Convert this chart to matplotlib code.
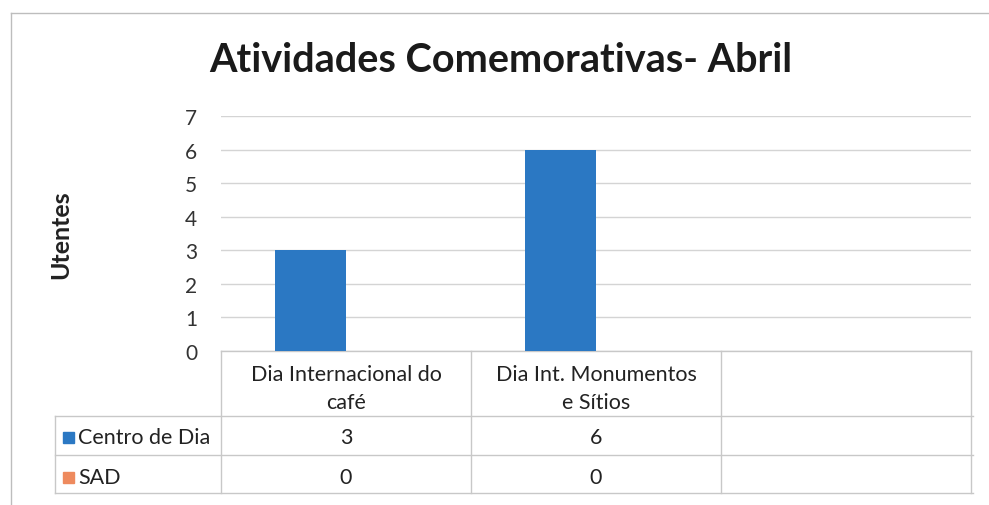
import matplotlib.pyplot as plt
from matplotlib.transforms import blended_transform_factory
import numpy as np

plt.rcParams['font.family'] = ['Lato', 'DejaVu Sans']

# dados do gráfico
categorias = ['Dia Internacional do\ncafé', 'Dia Int. Monumentos\ne Sítios', '']
series = ['Centro de Dia', 'SAD']
centro_dia = [3, 6, None]
sad = [0, 0, None]
cores = ['#2B78C3', '#EE8A5E']

W, H = 989, 506
fig = plt.figure(figsize=(W / 100, H / 100), dpi=100)

def fy(py):
    return 1 - py / H

ax = fig.add_axes([221 / W, fy(352), (971 - 221) / W, (352 - 117) / H])

x = np.arange(len(categorias))
largura = 0.285
valores = [centro_dia, sad]
for i, (nome, vals) in enumerate(zip(series, valores)):
    v = [0 if a is None else a for a in vals]
    ax.bar(x + (i - 0.5) * largura, v, largura, color=cores[i], zorder=3)

ax.set_xlim(-0.5, len(categorias) - 0.5)
ax.set_ylim(0, 7)
ax.set_yticks(range(0, 8))
ax.tick_params(axis='y', length=0, labelsize=15, pad=17, labelcolor='#333333')
ax.set_xticks([])
ax.grid(axis='y', color='#D4D4D4', linewidth=1, zorder=0)
for s in ax.spines.values():
    s.set_visible(False)

ax.set_ylabel('Utentes', fontsize=18, fontweight='bold', color='#222222')
ax.yaxis.set_label_coords(-0.198, 0.5)

fig.text(0.506, fy(61), 'Atividades Comemorativas- Abril', ha='center', va='center',
         fontsize=28.5, fontweight='bold', color='#1A1A1A')

# tabela de dados (eixo x em dados, eixo y em pixels da figura)
tr = blended_transform_factory(ax.transData, fig.transFigure)
linha_cor = '#C8C8C8'
y_topo, y_r1, y_r2, y_fim = 352, 417, 456, 494
x_leg = 55

# linhas horizontais
ax.plot([-0.5, 2.5], [fy(y_topo)] * 2, transform=tr, color=linha_cor, lw=1, clip_on=False)
for yy in (y_r1, y_r2, y_fim):
    fig.add_artist(plt.Line2D([x_leg / W, 973 / W], [fy(yy)] * 2, color=linha_cor, lw=1))
# linhas verticais
fig.add_artist(plt.Line2D([x_leg / W] * 2, [fy(y_r1), fy(y_fim)], color=linha_cor, lw=1))
for b in np.arange(len(categorias) + 1) - 0.5:
    ax.plot([b, b], [fy(y_topo), fy(y_fim)], transform=tr, color=linha_cor, lw=1, clip_on=False)

# cabeçalhos
for xi, cat in zip(x, categorias):
    ax.text(xi, fy(389), cat, transform=tr, ha='center', va='center',
            fontsize=15.5, color='#222222', linespacing=1.5)

# linhas de valores
for j, (nome, vals) in enumerate(zip(series, valores)):
    yc = fy((y_r1 + y_r2) / 2 + 2) if j == 0 else fy((y_r2 + y_fim) / 2 + 3)
    fig.add_artist(plt.Rectangle(((x_leg + 8) / W, yc - 5.5 / H), 11 / W, 11 / H,
                                 color=cores[j], transform=fig.transFigure))
    fig.text((x_leg + 23) / W, yc, nome, ha='left', va='center', fontsize=15.5, color='#222222')
    for xi, v in zip(x, vals):
        if v is not None:
            ax.text(xi, yc, str(v), transform=tr, ha='center', va='center',
                    fontsize=15.5, color='#222222')

# moldura do gráfico
fig.add_artist(plt.Line2D([11 / W, 11 / W], [0, fy(14)], color='#BDBDBD', lw=1))
fig.add_artist(plt.Line2D([11 / W, 1], [fy(14), fy(14)], color='#BDBDBD', lw=1))

fig.savefig('out.png', dpi=100)
